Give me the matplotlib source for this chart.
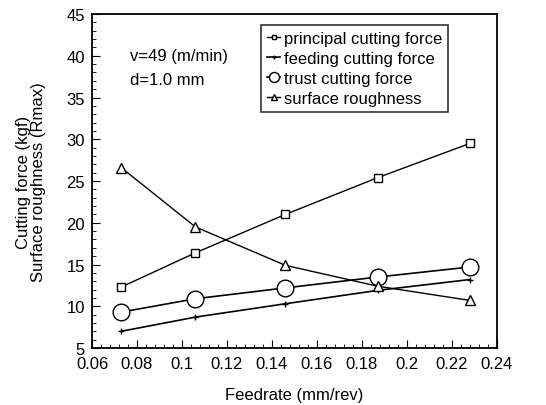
import matplotlib
matplotlib.use("Agg")
import matplotlib.pyplot as plt
from matplotlib.ticker import MultipleLocator

plt.rcParams['font.family'] = ['Liberation Sans', 'DejaVu Sans']

# Data
feedrate = [0.073, 0.106, 0.146, 0.187, 0.228]
principal = [12.3, 16.4, 21.0, 25.4, 29.5]
feeding = [7.0, 8.7, 10.3, 11.9, 13.2]
trust = [9.3, 10.9, 12.2, 13.5, 14.7]
roughness = [26.6, 19.5, 14.9, 12.4, 10.7]

fig = plt.figure(figsize=(5.46, 4.06), dpi=100)
ax = fig.add_axes([0.1685, 0.1404, 0.7415, 0.8226])

ax.plot(feedrate, principal, color="black", lw=1.0, marker="s", ms=6,
        mfc="white", mec="black", mew=1.0, label="principal cutting force")
ax.plot(feedrate, feeding, color="black", lw=1.2, marker="+", ms=4,
        label="feeding cutting force")
ax.plot(feedrate, trust, color="black", lw=1.2, marker="o", ms=12,
        mfc="white", mec="black", mew=1.0, label="trust cutting force")
ax.plot(feedrate, roughness, color="black", lw=1.0, marker="^", ms=7,
        mfc="white", mec="black", mew=1.0, label="surface roughness")

ax.set_xlim(0.06, 0.24)
ax.set_ylim(5, 45)
ax.xaxis.set_minor_locator(MultipleLocator(0.004))
ax.yaxis.set_major_locator(MultipleLocator(5))
ax.yaxis.set_minor_locator(MultipleLocator(1))
ax.set_xticks([0.06, 0.08, 0.1, 0.12, 0.14, 0.16, 0.18, 0.2, 0.22, 0.24])
ax.set_xticklabels(["0.06", "0.08", "0.1", "0.12", "0.14", "0.16", "0.18",
                    "0.2", "0.22", "0.24"])
ax.tick_params(which="both", direction="in", labelsize=12, top=False, right=False)
ax.tick_params(axis="x", pad=6)
ax.tick_params(axis="y", pad=5)
ax.tick_params(which="major", length=6)
ax.tick_params(which="minor", length=3)
for s in ax.spines.values():
    s.set_linewidth(1.3)

ax.set_xlabel("Feedrate (mm/rev)", fontsize=12, labelpad=11)
ax.set_ylabel("Cutting force (kgf)\nSurface roughness (Rmax)", fontsize=12,
              linespacing=1.0, labelpad=15)

ax.text(0.077, 40.0, "v=49 (m/min)", fontsize=12, va="center")
ax.text(0.077, 37.2, "d=1.0 mm", fontsize=12, va="center")

leg = ax.legend(loc="upper right", bbox_to_anchor=(0.879, 0.967), fontsize=12,
                frameon=True, fancybox=False, handlelength=0.8, handletextpad=0.2,
                borderpad=0.35, labelspacing=0.3, markerscale=0.6,
                borderaxespad=0)
leg.get_frame().set_edgecolor("black")
leg.get_frame().set_linewidth(1.2)

fig.savefig("out.png", dpi=100)
